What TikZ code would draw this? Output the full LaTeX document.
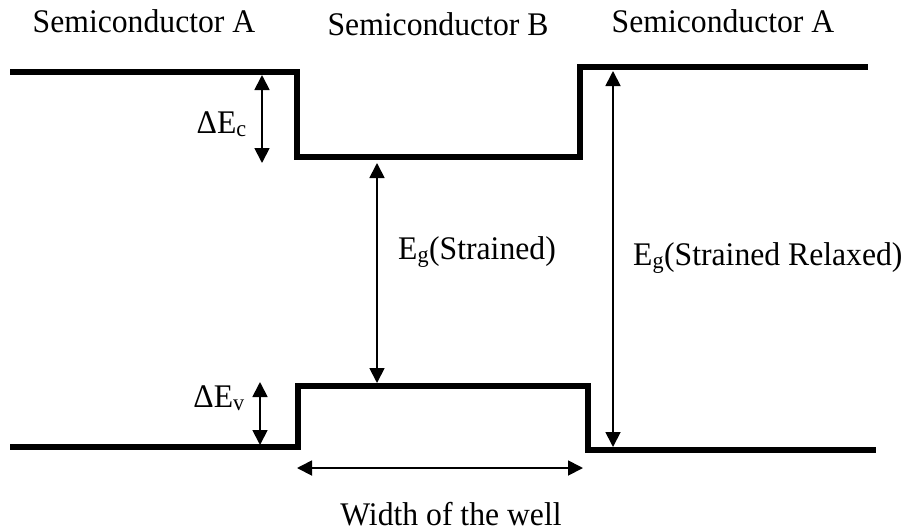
\documentclass[tikz,border=0pt]{standalone}
\usepackage{fontspec}
\setmainfont[FakeStretch=0.96]{Liberation Serif}
\usetikzlibrary{arrows.meta}

\begin{document}
\begin{tikzpicture}[
    x=1pt, y=-1pt,
    band/.style={line width=6pt, line join=miter},
    gap/.style={{Triangle[length=15pt, width=15pt]}-{Triangle[length=15pt, width=15pt]}, line width=1.8pt},
    every node/.style={font=\fontsize{33}{40}\selectfont, inner sep=0pt}
]
    \useasboundingbox (0,0) rectangle (909,531);

    % conduction band
    \coordinate (cbL) at (10,72);
    \coordinate (cb1) at (297,72);
    \coordinate (cb2) at (297,157);
    \coordinate (cb3) at (580,157);
    \coordinate (cb4) at (580,67);
    \coordinate (cbR) at (868,67);
    \draw[band] (cbL) -- (cb1) -- (cb2) -- (cb3) -- (cb4) -- (cbR);

    % valence band
    \coordinate (vbL) at (10,447);
    \coordinate (vb1) at (298,447);
    \coordinate (vb2) at (298,386);
    \coordinate (vb3) at (588,386);
    \coordinate (vb4) at (588,450);
    \coordinate (vbR) at (876,450);
    \draw[band] (vbL) -- (vb1) -- (vb2) -- (vb3) -- (vb4) -- (vbR);

    % arrow ends
    \coordinate (dEcTop) at (262,75);
    \coordinate (dEcBot) at (262,163);
    \coordinate (dEvTop) at (260,382);
    \coordinate (dEvBot) at (260,445);
    \coordinate (egSTop) at (377,163);
    \coordinate (egSBot) at (377,383);
    \coordinate (egRTop) at (613,71);
    \coordinate (egRBot) at (613,447);
    \coordinate (wellL) at (297,468);
    \coordinate (wellR) at (583,468);

    \node[anchor=base] (semiA1) at (144,32) {Semiconductor A};
    \node[anchor=base] (semiB)  at (438,35) {Semiconductor B};
    \node[anchor=base] (semiA2) at (723,32) {Semiconductor A};

    \node[anchor=base east] (dEc) at (247,133) {ΔE\textsubscript{c}};
    \node[anchor=base east] (dEv) at (245,407) {ΔE\textsubscript{v}};
    \node[anchor=base west] (egS) at (398,259) {E\textsubscript{g}(Strained)};
    \node[anchor=base west] (egR) at (633,265) {E\textsubscript{g}(Strained Relaxed)};
    \node[anchor=base] (well) at (451,525) {Width of the well};

    \path
        (dEcTop) edge[gap] (dEcBot)
        (dEvTop) edge[gap] (dEvBot)
        (egSTop) edge[gap] (egSBot)
        (egRTop) edge[gap] (egRBot)
        (wellL)  edge[gap] (wellR);
\end{tikzpicture}
\end{document}
